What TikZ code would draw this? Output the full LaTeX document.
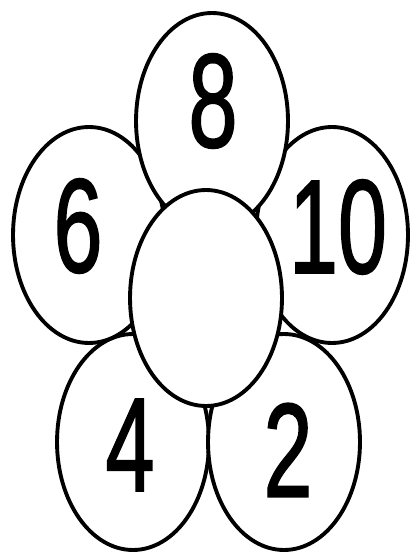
\documentclass[tikz,border=0pt]{standalone}
\usepackage{fontspec}
\newfontfamily\petalfont{Liberation Sans}[FakeBold=1.5]
\usetikzlibrary{shapes.geometric}

\begin{document}
\begin{tikzpicture}[x=0.02cm,y=-0.02cm,
  petal/.style={draw,ellipse,line width=2.2pt,fill=white,
    minimum width=3.04cm,minimum height=4.32cm,inner sep=0pt},
  digit/.style={inner sep=0pt,font=\fontsize{76}{76}\petalfont}]
  \useasboundingbox (0,0) rectangle (415,553);

  % lower petals
  \node[petal] (p4) at (133,442) {};
  \node[petal] (p2) at (284,442) {};
  % side petals
  \node[petal] (p6) at (89,235) {};
  \node[petal] (p10) at (332,235) {};
  % top petal
  \node[petal] (p8) at (212,121) {};
  % middle
  \node[petal] (heart) at (206,298) {};

  % numbers
  \node[digit] (n8) at (213,101) {\scalebox{0.66}[1]{8}};
  \node[digit] (n6) at (78,226) {\scalebox{0.66}[1]{6}};
  \node[digit] (n10) at (338,227) {\scalebox{0.66}[1]{10}};
  \node[digit] (n4) at (130,445) {\scalebox{0.66}[1]{4}};
  \node[digit] (n2) at (288,450) {\scalebox{0.66}[1]{2}};
\end{tikzpicture}
\end{document}
